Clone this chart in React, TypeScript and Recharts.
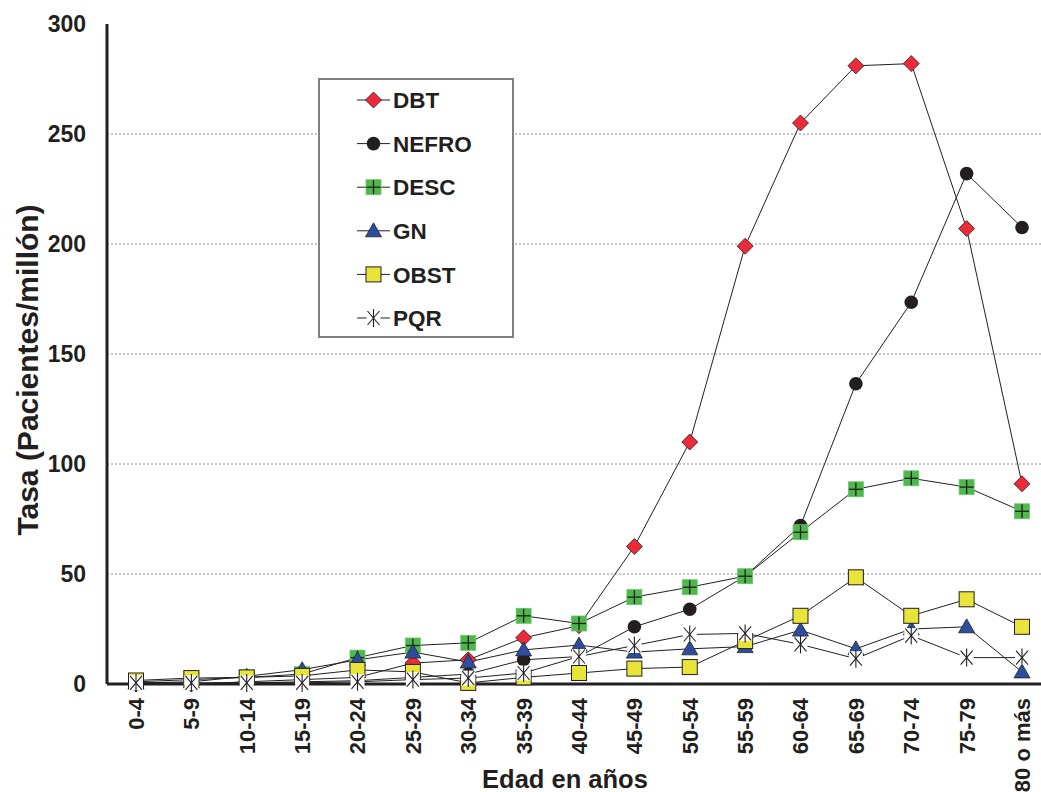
import React from 'react';
import {
  LineChart,
  Line,
  XAxis,
  YAxis,
  CartesianGrid,
  Legend,
  Label,
} from 'recharts';

// Age groups (x categories)
const ageGroups = [
  '0-4', '5-9', '10-14', '15-19', '20-24', '25-29', '30-34', '35-39', '40-44',
  '45-49', '50-54', '55-59', '60-64', '65-69', '70-74', '75-79', '80 o más',
];

// Incidence rate per million, by cause
const dbt = [0, 0, 1, 2, 3, 9.5, 11, 21, 26.5, 62.5, 110, 199, 255, 281, 282, 207, 91];
const nefro = [0, 0, 0.5, 1, 1.5, 3, 4.5, 11, 12.5, 26, 34, 49, 72, 136.5, 173.5, 232, 207.5];
const desc = [1, 2, 3, 4.5, 12, 17.5, 18.7, 31, 27.5, 39.5, 44, 49, 69, 88.5, 93.5, 89.5, 78.5];
const gn = [0.5, 1, 3.5, 6.5, 11, 14.5, 10, 15.5, 17.7, 14.5, 16, 17, 24.5, 16, 25, 26, 5.5];
const obst = [1.6, 2.7, 3, 3.7, 6.4, 5.5, 0.5, 3, 5, 7, 7.7, 19.5, 31, 48.5, 31, 38.5, 26];
const pqr = [0.5, 0.5, 0.5, 0.5, 1, 2, 2.7, 5, 12.5, 17.5, 22.5, 23, 18, 11.5, 22, 12, 12];

const yTicks = [0, 50, 100, 150, 200, 250, 300];
const gridValues = [50, 100, 150, 200, 250];

const data = ageGroups.map((age, i) => ({
  age,
  DBT: dbt[i],
  NEFRO: nefro[i],
  DESC: desc[i],
  GN: gn[i],
  OBST: obst[i],
  PQR: pqr[i],
}));

const INK = '#231f20';
const FONT = '"Liberation Sans", Arial, Helvetica, sans-serif';

type MarkerKind = 'diamond' | 'circle' | 'cross' | 'triangle' | 'square' | 'star';

const COLORS: Record<MarkerKind, string> = {
  diamond: '#ec2a3a',
  circle: INK,
  cross: '#4fb84c',
  triangle: '#2d4e9e',
  square: '#e8e43a',
  star: INK,
};

function Marker({ kind, cx, cy }: { kind: MarkerKind; cx: number; cy: number }) {
  switch (kind) {
    case 'diamond':
      return (
        <polygon
          points={`${cx},${cy - 8} ${cx + 8},${cy} ${cx},${cy + 8} ${cx - 8},${cy}`}
          fill={COLORS.diamond}
          stroke={INK}
          strokeWidth={0.8}
        />
      );
    case 'circle':
      return <circle cx={cx} cy={cy} r={6.8} fill={INK} />;
    case 'cross':
      return (
        <g>
          <rect x={cx - 7.5} y={cy - 7.5} width={15} height={15} fill={COLORS.cross} stroke="#6cc46a" strokeWidth={0.8} />
          <line x1={cx - 7} y1={cy} x2={cx + 7} y2={cy} stroke={INK} strokeWidth={1.3} />
          <line x1={cx} y1={cy - 7} x2={cx} y2={cy + 7} stroke={INK} strokeWidth={1.3} />
        </g>
      );
    case 'triangle':
      return (
        <polygon
          points={`${cx},${cy - 8} ${cx + 8},${cy + 6} ${cx - 8},${cy + 6}`}
          fill={COLORS.triangle}
          stroke={INK}
          strokeWidth={0.8}
        />
      );
    case 'square':
      return (
        <rect x={cx - 7.5} y={cy - 7.5} width={15} height={15} fill={COLORS.square} stroke={INK} strokeWidth={1} />
      );
    case 'star':
    default:
      return (
        <g>
          <rect x={cx - 7} y={cy - 7.5} width={14} height={15} fill="#fff" />
          <g stroke={INK} strokeWidth={1.1}>
            <line x1={cx - 6} y1={cy - 7} x2={cx + 6} y2={cy + 7} />
            <line x1={cx - 6} y1={cy + 7} x2={cx + 6} y2={cy - 7} />
            <line x1={cx} y1={cy - 9} x2={cx} y2={cy + 9} />
          </g>
        </g>
      );
  }
}

const makeDot = (kind: MarkerKind) => (props: any) => {
  const { cx, cy, index } = props;
  if (cx == null || cy == null) return <g key={`n-${index}`} />;
  return <Marker key={`${kind}-${index}`} kind={kind} cx={cx} cy={cy} />;
};

const seriesDefs: { key: string; kind: MarkerKind }[] = [
  { key: 'DBT', kind: 'diamond' },
  { key: 'NEFRO', kind: 'circle' },
  { key: 'DESC', kind: 'cross' },
  { key: 'GN', kind: 'triangle' },
  { key: 'OBST', kind: 'square' },
  { key: 'PQR', kind: 'star' },
];

function LegendBox() {
  return (
    <div
      style={{
        width: 196,
        height: 260,
        boxSizing: 'border-box',
        border: '2px solid #808080',
        background: '#fff',
      }}
    >
      <svg width={192} height={256} style={{ display: 'block' }}>
        {seriesDefs.map((s, i) => {
          const y = 20 + i * 43.6;
          return (
            <g key={s.key}>
              <line x1={37} y1={y} x2={70} y2={y} stroke={INK} strokeWidth={1} />
              <Marker kind={s.kind} cx={53.5} cy={y} />
              <text
                x={73}
                y={y}
                dy="0.36em"
                fontFamily={FONT}
                fontWeight="bold"
                fontSize={22.5}
                fill={INK}
              >
                {s.key}
              </text>
            </g>
          );
        })}
      </svg>
    </div>
  );
}

const XTick = (props: any) => {
  const { x, payload } = props;
  const y = 698;
  return (
    <text
      x={x}
      y={y}
      transform={`rotate(-90 ${x} ${y})`}
      textAnchor="end"
      dy="0.36em"
      fontFamily={FONT}
      fontWeight="bold"
      fontSize={22}
      fill={INK}
    >
      {payload.value}
    </text>
  );
};

const YTitle = () => {
  const cx = 27;
  const cy = 370;
  return (
    <text
      x={cx}
      y={cy}
      transform={`rotate(-90 ${cx} ${cy})`}
      textAnchor="middle"
      dy="0.36em"
      fontFamily={FONT}
      fontWeight="bold"
      fontSize={30}
      fill={INK}
    >
      Tasa (Pacientes/millón)
    </text>
  );
};

export default function App() {
  return (
    <div style={{ position: 'absolute', left: 0, top: 0, width: 1041, height: 792, background: '#fff' }}>
      <LineChart
        width={1041}
        height={792}
        data={data}
        margin={{ top: 24, right: 0, bottom: 8, left: 0 }}
      >
        <CartesianGrid
          vertical={false}
          horizontalValues={gridValues}
          stroke="#8c8c8c"
          strokeDasharray="2 2"
        />
        <XAxis
          dataKey="age"
          height={100}
          padding={{ left: 29, right: 19 }}
          axisLine={{ stroke: INK, strokeWidth: 3 }}
          tickLine={false}
          interval={0}
          tick={<XTick />}
        >
          <Label
            value="Edad en años"
            position="insideBottom"
            offset={-4}
            dx={-9}
            fontFamily={FONT}
            fontWeight="bold"
            fontSize={25.5}
            fill={INK}
          />
        </XAxis>
        <YAxis
          width={107}
          domain={[0, 300]}
          ticks={yTicks}
          interval={0}
          axisLine={{ stroke: INK, strokeWidth: 3 }}
          tickLine={false}
          tickSize={0}
          tickMargin={21}
          tick={{ fontFamily: FONT, fontWeight: 'bold', fontSize: 23, fill: INK }}
          label={<YTitle />}
        />
        <Legend
          layout="horizontal"
          verticalAlign="middle"
          align="center"
          content={() => <LegendBox />}
          wrapperStyle={{ position: 'absolute', left: 318, top: 78, width: 196, height: 260 }}
        />
        {seriesDefs.map((s) => (
          <Line
            key={s.key}
            type="linear"
            dataKey={s.key}
            stroke={INK}
            strokeWidth={1}
            dot={makeDot(s.kind)}
            activeDot={false}
            isAnimationActive={false}
          />
        ))}
      </LineChart>
    </div>
  );
}
